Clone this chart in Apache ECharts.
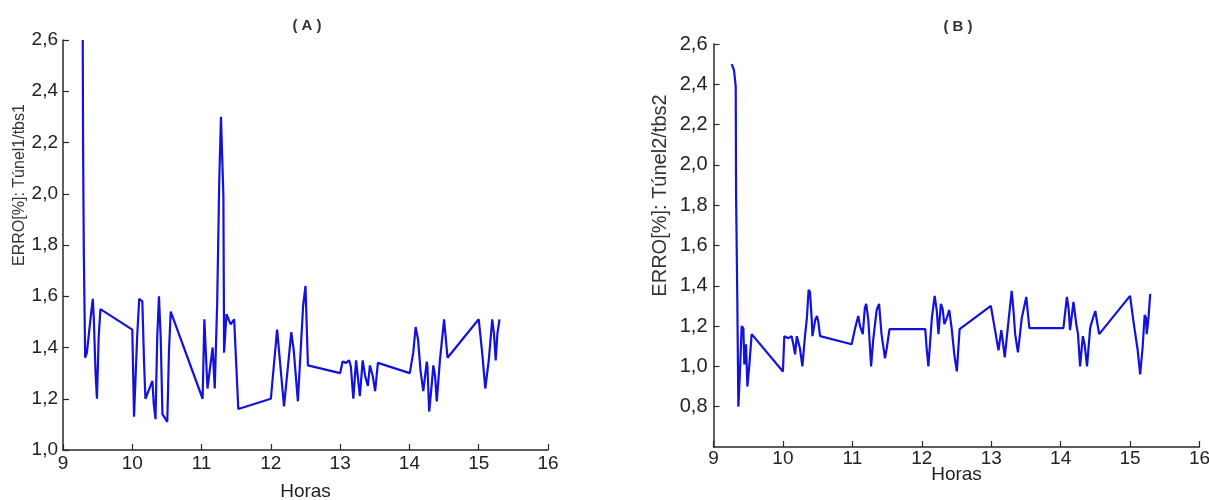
<!DOCTYPE html>
<html>
<head>
<meta charset="utf-8">
<script src="https://cdn.jsdelivr.net/npm/echarts@6/dist/echarts.min.js"></script>
<style>
html,body{margin:0;padding:0;background:#fff;}
#chart{width:1209px;height:500px;}
</style>
</head>
<body>
<div id="chart"></div>
<script>
// Panel A: Túnel1/tbs1
const hoursA = [9.285,9.29,9.30,9.32,9.345,9.40,9.43,9.445,9.47,9.49,9.515,9.54,
  10.0,10.025,10.07,10.10,10.145,10.17,10.19,10.29,10.31,10.335,10.36,10.385,10.41,10.435,10.505,10.53,10.555,
  11.015,11.04,11.085,11.16,11.19,11.225,11.255,11.28,11.30,11.315,11.325,11.36,11.42,11.47,11.495,11.53,
  12.0,12.09,12.12,12.19,12.295,12.33,12.39,12.465,12.50,12.535,
  13.0,13.035,13.085,13.13,13.155,13.19,13.23,13.25,13.285,13.325,13.36,13.40,13.43,13.47,13.505,13.545,
  14.005,14.055,14.09,14.125,14.16,14.20,14.25,14.26,14.285,14.32,14.345,14.37,14.395,14.44,14.50,14.55,
  15.0,15.05,15.095,15.145,15.195,15.22,15.245,15.27,15.30];
const valuesA = [2.60,2.18,1.78,1.36,1.38,1.52,1.59,1.51,1.30,1.20,1.44,1.55,
  1.47,1.13,1.44,1.59,1.58,1.34,1.20,1.27,1.18,1.12,1.44,1.60,1.44,1.14,1.11,1.39,1.54,
  1.20,1.51,1.24,1.40,1.24,1.57,2.05,2.30,2.30,1.99,1.38,1.53,1.49,1.51,1.51,1.16,
  1.20,1.47,1.38,1.17,1.46,1.39,1.19,1.56,1.64,1.33,
  1.30,1.345,1.34,1.35,1.325,1.20,1.35,1.35,1.21,1.35,1.29,1.25,1.33,1.29,1.23,1.34,
  1.30,1.38,1.48,1.43,1.31,1.23,1.345,1.325,1.15,1.25,1.33,1.29,1.19,1.35,1.51,1.36,
  1.51,1.38,1.24,1.35,1.51,1.455,1.35,1.455,1.51];

// Panel B: Túnel2/tbs2
const hoursB = [9.262,9.295,9.32,9.325,9.343,9.358,9.382,9.406,9.43,9.444,9.468,9.488,9.512,9.55,
  10.0,10.02,10.08,10.125,10.15,10.175,10.20,10.22,10.245,10.28,10.32,10.345,10.37,10.39,10.415,10.425,10.465,10.49,10.51,10.535,
  10.99,11.04,11.085,11.11,11.15,11.18,11.20,11.23,11.27,11.30,11.35,11.385,11.42,11.47,11.495,11.535,
  11.975,12.05,12.07,12.095,12.145,12.185,12.215,12.24,12.275,12.30,12.325,12.36,12.395,12.43,12.47,12.505,12.545,
  12.995,13.04,13.105,13.145,13.165,13.195,13.25,13.295,13.32,13.345,13.385,13.44,13.505,13.535,13.55,
  14.04,14.09,14.115,14.135,14.16,14.185,14.225,14.25,14.28,14.32,14.345,14.38,14.425,14.465,14.50,14.52,14.555,
  15.0,15.05,15.11,15.145,15.18,15.21,15.23,15.24,15.265,15.29];
const valuesB = [2.50,2.47,2.39,1.86,1.33,0.80,0.98,1.20,1.19,1.01,1.11,0.90,0.99,1.16,
  0.975,1.15,1.14,1.15,1.11,1.06,1.15,1.15,1.09,1.00,1.16,1.24,1.38,1.37,1.23,1.15,1.23,1.25,1.22,1.15,
  1.11,1.19,1.25,1.20,1.16,1.29,1.31,1.23,1.00,1.13,1.28,1.31,1.16,1.04,1.09,1.185,
  1.185,1.185,1.09,1.00,1.24,1.35,1.28,1.16,1.31,1.285,1.21,1.24,1.28,1.19,1.055,0.975,1.185,
  1.30,1.21,1.08,1.18,1.13,1.045,1.23,1.375,1.28,1.16,1.07,1.24,1.345,1.24,1.19,
  1.19,1.345,1.285,1.18,1.25,1.32,1.21,1.16,1.00,1.15,1.11,1.00,1.19,1.24,1.275,1.23,1.16,
  1.35,1.22,1.08,0.96,1.09,1.255,1.24,1.16,1.24,1.36];

const titleA = '( A )';
const titleB = '( B )';
const yNameA = 'ERRO[%]: Túnel1/tbs1';
const yNameB = 'ERRO[%]: Túnel2/tbs2';
const xName = 'Horas';

const LINE = '#1212dc';
const AX = '#2a2a2a';
const TXT = '#222';
const SANS = '"Liberation Sans",Arial,sans-serif';
const comma = v => v.toFixed(1).replace('.', ',');

const chart = echarts.init(document.getElementById('chart'), null, {renderer:'canvas'});

function xAxisCfg(gi, labelSize, margin, nameGap){
  return {
    type:'value', gridIndex:gi, min:9, max:16, interval:1,
    axisLine:{show:true, lineStyle:{color:AX, width:1.5}},
    axisTick:{show:true, inside:true, length:6, lineStyle:{color:AX, width:1.2}},
    splitLine:{show:false},
    axisLabel:{color:TXT, fontFamily:SANS, fontSize:labelSize, margin:margin},
    name:xName, nameLocation:'middle', nameGap:nameGap, nameMoveOverlap:false,
    nameTextStyle:{color:TXT, fontFamily:SANS, fontSize:labelSize}
  };
}

chart.setOption({
  animation:false,
  backgroundColor:'#fff',
  title:[
    {text:titleA, left:302, top:13, textAlign:'center', textStyle:{fontSize:15, fontWeight:'bold', color:'#333', fontFamily:SANS}},
    {text:titleB, left:953, top:14, textAlign:'center', textStyle:{fontSize:15, fontWeight:'bold', color:'#333', fontFamily:SANS}}
  ],
  grid:[
    {left:63, right:661, top:40, bottom:50, outerBoundsMode:'none', containLabel:false},
    {left:713.5, right:9.5, top:44, bottom:53, outerBoundsMode:'none', containLabel:false}
  ],
  xAxis:[
    xAxisCfg(0, 19, 4, 32),
    xAxisCfg(1, 19, 2, 18)
  ],
  yAxis:[
    {type:'value', gridIndex:0, min:1.0, max:2.6, interval:0.2,
     axisLine:{show:true, lineStyle:{color:AX, width:1.5}},
     axisTick:{show:true, inside:true, length:6, lineStyle:{color:AX, width:1.2}},
     splitLine:{show:false},
     axisLabel:{color:TXT, fontFamily:SANS, fontSize:19, margin:5, formatter:comma},
     name:yNameA, nameLocation:'middle', nameRotate:90, nameGap:35, nameMoveOverlap:false,
     nameTextStyle:{color:'#333', fontFamily:SANS, fontSize:16, padding:[0,0,0,120]}},
    {type:'value', gridIndex:1, min:0.6, max:2.6, interval:0.2,
     axisLine:{show:true, lineStyle:{color:AX, width:1.5}},
     axisTick:{show:true, inside:true, length:6, lineStyle:{color:AX, width:1.2}},
     splitLine:{show:false},
     axisLabel:{color:TXT, fontFamily:SANS, fontSize:20, margin:6, formatter:comma, showMinLabel:false},
     name:yNameB, nameLocation:'middle', nameRotate:90, nameGap:43, nameMoveOverlap:false,
     nameTextStyle:{color:'#333', fontFamily:SANS, fontSize:20, padding:[0,0,0,100]}}
  ],
  series:[
    {type:'line', xAxisIndex:0, yAxisIndex:0, showSymbol:false, silent:true,
     lineStyle:{color:LINE, width:2.2}, data:hoursA.map((h,i)=>[h, valuesA[i]])},
    {type:'line', xAxisIndex:1, yAxisIndex:1, showSymbol:false, silent:true,
     lineStyle:{color:LINE, width:2.2}, data:hoursB.map((h,i)=>[h, valuesB[i]])}
  ]
});
</script>
</body>
</html>
